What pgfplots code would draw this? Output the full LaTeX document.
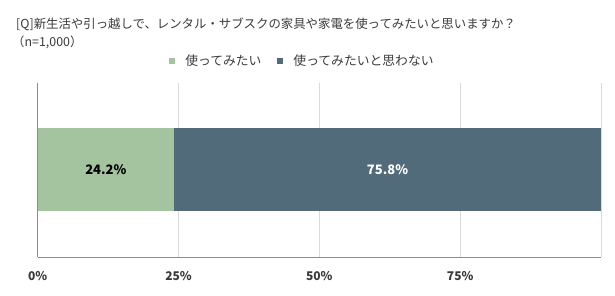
\documentclass[border=0pt]{standalone}
\usepackage{fontspec}
\setmainfont{Noto Sans CJK JP}
\usepackage{pgfplots}
\pgfplotsset{compat=1.18}
\definecolor{cgreen}{HTML}{A4C4A0}
\definecolor{cdark}{HTML}{516B7A}
\definecolor{ctext}{HTML}{3A3A3A}
\definecolor{cgrid}{HTML}{D9D9D9}
\definecolor{caxis}{HTML}{8C8C8C}
\begin{document}
\begin{tikzpicture}
\path[use as bounding box] (0pt,0pt) rectangle (615pt,296pt);
\node[anchor=west,inner sep=0pt,text=ctext,font=\fontsize{12.4}{15}\selectfont] at (16pt,272pt) {[Q]新生活や引っ越しで、レンタル・サブスクの家具や家電を使ってみたいと思いますか？};
\node[anchor=west,inner sep=0pt,text=ctext,font=\fontsize{12.4}{15}\selectfont] at (12pt,254pt) {（n=1,000）};
\begin{axis}[
  at={(37.7pt,39pt)}, anchor=south west,
  scale only axis, width=563.3pt, height=174pt,
  xbar stacked, bar width=83pt,
  xmin=0, xmax=100, ymin=-1, ymax=1,
  ytick=\empty,
  xtick={0,25,50,75},
  extra x ticks={100}, extra x tick labels={},
  extra x tick style={grid=major},
  xmajorgrids, grid style={cgrid, line width=0.8pt},
  major tick length=0pt,
  axis x line*=bottom, axis y line*=left,
  axis line style={caxis, line width=0.9pt},
  xticklabel={\pgfmathprintnumber[assume math mode=true]{\tick}\%},
  xticklabel style={font=\fontsize{12}{14}\selectfont\bfseries, text=ctext, yshift=-11pt},
  legend columns=2,
  legend style={at={(0.47,1.128)}, anchor=center, draw=none, fill=none,
    font=\fontsize{12.8}{14}\selectfont, text=ctext,
    /tikz/every odd column/.append style={column sep=8pt},
    /tikz/every even column/.append style={column sep=14pt}},
  legend image code/.code={\fill[#1] (0pt,-3pt) rectangle (6pt,3pt);},
  visualization depends on=rawx \as \myx,
  nodes near coords={\pgfmathprintnumber[fixed,fixed zerofill,precision=1,assume math mode=true]{\myx}\%},
  every node near coord/.append style={anchor=center, font=\fontsize{13}{15}\selectfont\bfseries},
]
\addplot[fill=cgreen, draw=none, nodes near coords style={text=black}] coordinates {(24.2,0)};
\addplot[fill=cdark, draw=none, nodes near coords style={text=white}] coordinates {(75.8,0)};
\legend{使ってみたい, 使ってみたいと思わない}
\end{axis}
\end{tikzpicture}
\end{document}
